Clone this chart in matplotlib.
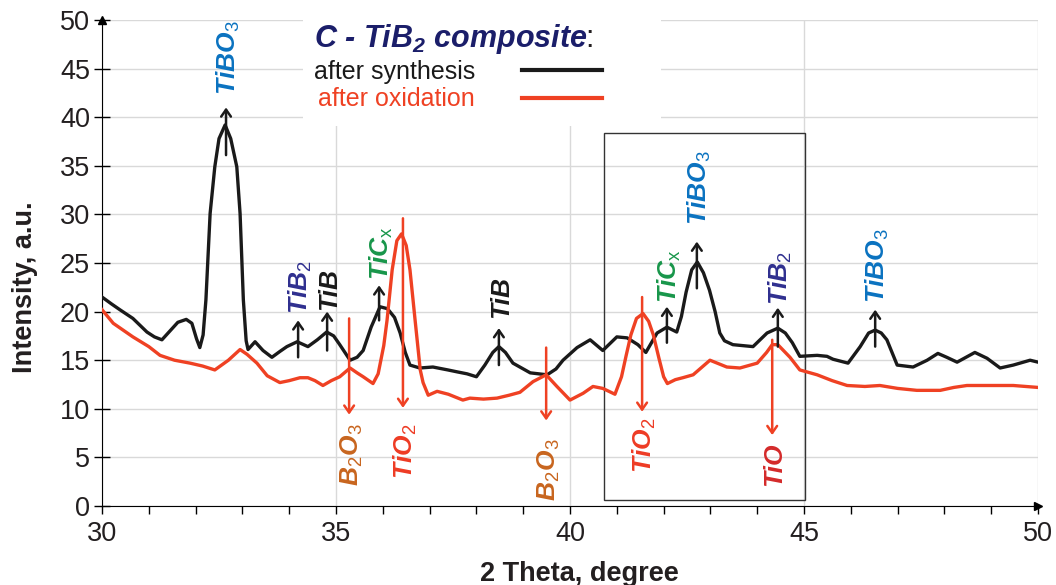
import matplotlib
matplotlib.use("Agg")
import matplotlib.pyplot as plt
from matplotlib.patches import Rectangle

plt.rcParams['font.family'] = ['Liberation Sans', 'DejaVu Sans']
plt.rcParams['mathtext.fontset'] = 'custom'
plt.rcParams['mathtext.rm'] = 'Liberation Sans'
plt.rcParams['mathtext.it'] = 'Liberation Sans:italic'
plt.rcParams['mathtext.bf'] = 'Liberation Sans:bold'
plt.rcParams['mathtext.bfit'] = 'Liberation Sans:bold:italic'

# XRD pattern after synthesis (black)
synth_theta = [30.00, 30.20, 30.38, 30.66, 30.96, 31.12, 31.28, 31.45, 31.62, 31.80,
               31.92, 32.02, 32.09, 32.16, 32.22, 32.31, 32.41, 32.50, 32.63, 32.75,
               32.88, 32.95, 33.02, 33.08, 33.12, 33.27, 33.44, 33.63, 33.80, 33.95,
               34.17, 34.40, 34.60, 34.80, 34.95, 35.08, 35.30, 35.45, 35.58, 35.75,
               35.94, 36.10, 36.25, 36.37, 36.48, 36.58, 36.79, 37.07, 37.39, 37.59,
               37.80, 38.00, 38.18, 38.35, 38.48, 38.62, 38.78, 39.15, 39.51, 39.70,
               39.85, 40.15, 40.43, 40.70, 41.00, 41.22, 41.45, 41.62, 41.86, 42.07,
               42.28, 42.38, 42.48, 42.60, 42.72, 42.85, 42.98, 43.10, 43.20, 43.30,
               43.48, 43.91, 44.21, 44.44, 44.60, 44.75, 44.91, 45.28, 45.49, 45.62,
               45.94, 46.20, 46.38, 46.52, 46.65, 46.77, 46.99, 47.33, 47.63, 47.86,
               48.05, 48.27, 48.65, 48.91, 49.19, 49.47, 49.83, 50.00]
synth_int = [21.5, 20.8, 20.2, 19.3, 17.9, 17.4, 17.1, 18.0, 18.9, 19.2,
             18.8, 17.2, 16.3, 17.6, 21.2, 30.1, 34.9, 37.8, 39.2, 37.8,
             34.9, 30.1, 21.2, 17.0, 16.1, 16.9, 16.0, 15.3, 15.9, 16.4,
             16.9, 16.4, 17.1, 17.9, 17.5, 16.6, 15.0, 15.3, 16.0, 18.4,
             20.5, 20.3, 19.4, 17.8, 15.8, 14.5, 14.2, 14.3, 14.0, 13.8,
             13.6, 13.3, 14.5, 15.8, 16.4, 15.8, 14.7, 13.7, 13.5, 14.1,
             15.0, 16.3, 17.1, 16.0, 17.4, 17.3, 16.6, 15.8, 17.8, 18.4,
             17.9, 19.5, 22.0, 24.3, 25.1, 24.0, 22.2, 20.0, 17.8, 17.0,
             16.6, 16.4, 17.8, 18.3, 17.8, 16.8, 15.4, 15.5, 15.4, 15.1,
             14.7, 16.4, 17.8, 18.1, 17.8, 17.1, 14.5, 14.3, 15.0, 15.7,
             15.3, 14.8, 15.8, 15.2, 14.2, 14.5, 15.0, 14.8]

# XRD pattern after oxidation (red)
oxid_theta = [30.00, 30.24, 30.45, 30.66, 31.00, 31.24, 31.55, 31.88, 32.15, 32.41,
              32.70, 32.95, 33.10, 33.31, 33.53, 33.80, 34.00, 34.23, 34.40, 34.55,
              34.72, 34.90, 35.08, 35.30, 35.45, 35.58, 35.79, 35.90, 36.02, 36.09,
              36.20, 36.30, 36.40, 36.50, 36.58, 36.69, 36.80, 36.86, 36.97, 37.16,
              37.40, 37.71, 37.86, 38.15, 38.44, 38.70, 38.93, 39.21, 39.49, 39.72,
              40.00, 40.28, 40.49, 40.70, 40.96, 41.10, 41.20, 41.30, 41.42, 41.56,
              41.68, 41.78, 41.90, 42.00, 42.08, 42.25, 42.41, 42.63, 42.99, 43.35,
              43.63, 44.00, 44.20, 44.32, 44.44, 44.70, 44.91, 45.28, 45.60, 45.92,
              46.30, 46.62, 47.00, 47.41, 47.91, 48.20, 48.48, 49.00, 49.47, 50.00]
oxid_int = [20.2, 18.8, 18.1, 17.4, 16.4, 15.5, 15.0, 14.7, 14.4, 14.0,
            15.0, 16.1, 15.6, 14.7, 13.4, 12.7, 12.9, 13.2, 13.2, 12.9,
            12.4, 12.9, 13.3, 14.2, 13.7, 13.3, 12.6, 13.6, 16.5, 19.1,
            24.3, 27.3, 28.0, 26.8, 24.3, 19.1, 14.0, 12.7, 11.4, 11.8,
            11.5, 10.9, 11.1, 11.0, 11.1, 11.4, 11.7, 12.8, 13.5, 12.3,
            10.9, 11.6, 12.3, 12.1, 11.5, 13.3, 15.5, 17.6, 19.3, 19.8,
            19.0, 17.6, 15.2, 13.3, 12.6, 13.0, 13.2, 13.5, 15.0, 14.3,
            14.2, 14.7, 15.8, 16.6, 16.6, 15.3, 14.0, 13.5, 12.9, 12.4,
            12.3, 12.4, 12.1, 11.9, 11.9, 12.2, 12.4, 12.4, 12.4, 12.2]

# phases marked with up arrows (after synthesis)
up_theta = [32.65, 34.19, 34.81, 35.92, 38.48, 42.07, 42.71, 44.44, 46.52]
up_from = [36.1, 15.3, 16.0, 19.1, 14.5, 16.8, 22.4, 16.4, 16.4]
up_to = [41.0, 19.1, 20.0, 22.7, 18.3, 20.5, 27.2, 20.4, 20.2]
up_text = [42.3, 19.8, 20.2, 23.3, 19.3, 20.9, 28.9, 20.7, 20.9]
up_names = ['TiBO$_3$', 'TiB$_2$', 'TiB', 'TiC$_\\mathrm{x}$', 'TiB',
            'TiC$_\\mathrm{x}$', 'TiBO$_3$', 'TiB$_2$', 'TiBO$_3$']
up_colors = ['#0a72c0', '#2f2f8f', '#1a1a1a', '#18964a', '#1a1a1a',
             '#18964a', '#0a72c0', '#2f2f8f', '#0a72c0']

# phases marked with down arrows (after oxidation)
down_theta = [35.28, 36.43, 39.49, 41.54, 44.32]
down_from = [19.3, 29.6, 16.3, 21.5, 17.1]
down_to = [9.4, 10.1, 8.8, 9.7, 7.3]
down_text = [8.5, 8.5, 7.0, 9.1, 6.5]
down_names = ['B$_2$O$_3$', 'TiO$_2$', 'B$_2$O$_3$', 'TiO$_2$', 'TiO']
down_colors = ['#c8651e', '#ee3b24', '#c8651e', '#ee3b24', '#d42a2a']

# zoomed region frame and legend mask (data units)
box_x, box_y, box_w, box_h = 40.73, 0.6, 4.29, 37.8
mask_x, mask_y, mask_w, mask_h = 34.3, 39.1, 7.65, 11.0

fig = plt.figure(figsize=(10.56, 5.85), dpi=100)
ax = fig.add_axes([0.0966, 0.135, 0.8864, 0.8308])

ax.plot(synth_theta, synth_int, color='#1a1a1a', lw=2.4, label='after synthesis',
        zorder=3, solid_joinstyle='round')
ax.plot(oxid_theta, oxid_int, color='#ef4123', lw=2.4, label='after oxidation',
        zorder=4, solid_joinstyle='round')

for x, y0, y1, name, c, yt in zip(up_theta, up_from, up_to, up_names, up_colors, up_text):
    ax.annotate('', xy=(x, y1), xytext=(x, y0),
                arrowprops=dict(arrowstyle='->,head_length=0.5,head_width=0.35',
                                color='#1a1a1a', lw=1.8, shrinkA=0, shrinkB=0), zorder=6)
    ax.text(x + 0.05, yt, name, rotation=90, ha='center', va='bottom', fontsize=19,
            fontweight='bold', fontstyle='italic', color=c, zorder=6)

for x, y0, y1, name, c, yt in zip(down_theta, down_from, down_to, down_names, down_colors, down_text):
    ax.annotate('', xy=(x, y1), xytext=(x, y0),
                arrowprops=dict(arrowstyle='->,head_length=0.5,head_width=0.35',
                                color='#ef4123', lw=1.8, shrinkA=0, shrinkB=0), zorder=6)
    ax.text(x + 0.05, yt, name, rotation=90, ha='center', va='top', fontsize=19,
            fontweight='bold', fontstyle='italic', color=c, zorder=6)

ax.add_patch(Rectangle((box_x, box_y), box_w, box_h, fill=False, ec='#333333', lw=1, zorder=2))
ax.add_patch(Rectangle((mask_x, mask_y), mask_w, mask_h, fc='white', ec='none', zorder=1))

ax.set_xlim(30, 50)
ax.set_ylim(0, 50)
ax.set_xticks(range(30, 51, 5))
ax.set_xticks(range(30, 51), minor=True)
ax.set_yticks(range(0, 51, 5))
ax.tick_params(axis='x', which='both', direction='out', length=6, width=1,
               labelsize=19.5, pad=5, labelcolor='#231f20')
ax.tick_params(axis='y', direction='inout', length=11, width=1,
               labelsize=19.5, pad=3, labelcolor='#231f20')
ax.set_axisbelow(True)
ax.grid(True, which='major', color='#d9d9d9', lw=1)
for s in ['top', 'right']:
    ax.spines[s].set_visible(False)
ax.plot(1, 0, marker='>', color='k', ms=6, transform=ax.transAxes, clip_on=False)
ax.plot(0, 1, marker='^', color='k', ms=6, transform=ax.transAxes, clip_on=False)

ax.set_xlabel('2 Theta, degree', fontsize=19.5, fontweight='bold', color='#231f20')
ax.xaxis.set_label_coords(0.51, -0.113)
ax.set_ylabel('Intensity, a.u.', fontsize=19.5, fontweight='bold', color='#231f20')
ax.yaxis.set_label_coords(-0.068, 0.45)

leg = ax.legend(loc='upper left', bbox_to_anchor=(0.2262, 0.996), markerfirst=False,
                frameon=False, fontsize=18, handlelength=3.2, handletextpad=1.9,
                labelspacing=0.15, borderpad=0, borderaxespad=0,
                title='C - TiB$_\\mathbfit{2}$ composite',
                title_fontproperties={'size': 22, 'weight': 'bold', 'style': 'italic'},
                alignment='left', labelcolor='linecolor')
leg.get_title().set_color('#1b1e6a')
for line in leg.get_lines():
    line.set_linewidth(3)
ax.annotate(':', xy=(1, 0.5), xycoords=leg.get_title(), xytext=(-1.5, 0),
            textcoords='offset points', ha='left', va='center',
            fontsize=22, color='#231f20', zorder=7)

fig.savefig('out.png', dpi=100)
